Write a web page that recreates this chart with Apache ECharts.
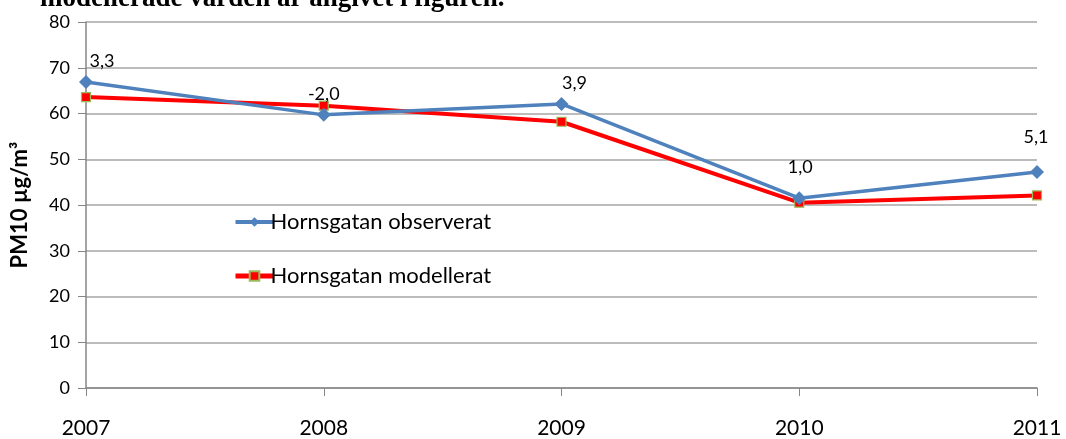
<!DOCTYPE html>
<html>
<head>
<meta charset="utf-8">
<script src="https://cdn.jsdelivr.net/npm/echarts@6/dist/echarts.min.js"></script>
<style>html,body{margin:0;padding:0;background:#fff}#c{width:1066px;height:439px}</style>
</head>
<body>
<div id="c"></div>
<script>
const years = ['2007', '2008', '2009', '2010', '2011'];
const observed = [66.9, 59.7, 62.1, 41.5, 47.2];
const modelled = [63.6, 61.7, 58.2, 40.5, 42.1];
const diffLabels = ['3,3', '-2,0', '3,9', '1,0', '5,1'];
const seriesNames = ['Hornsgatan observerat', 'Hornsgatan modellerat'];
const yTicks = [0, 10, 20, 30, 40, 50, 60, 70, 80];

const font = 'Lato, "Open Sans", sans-serif';
const labelShift = [[16, 0], [0, 0], [13, 0], [1, -10], [-1, -14]];

const chart = echarts.init(document.getElementById('c'));
chart.setOption({
  animation: false,
  backgroundColor: '#fff',
  grid: { left: 86, right: 29, top: 22, bottom: 50, containLabel: false },
  graphic: [{
    type: 'text', left: 40, top: -14,
    style: { text: 'modellerade värden är angivet i figuren.', font: 'bold 27px "Liberation Serif", "DejaVu Serif", serif', fill: '#000' }
  }],
  legend: {
    orient: 'vertical', left: 228, top: 206, itemGap: 32,
    itemWidth: 38, itemHeight: 12,
    textStyle: { fontFamily: font, fontSize: 22, color: '#000', padding: [0, 0, 0, -8] },
    data: [
      { name: seriesNames[0], lineStyle: { width: 4 } },
      { name: seriesNames[1], lineStyle: { width: 5 } }
    ]
  },
  xAxis: {
    type: 'category', data: years, boundaryGap: false,
    axisLine: { lineStyle: { color: '#868686', width: 1.5 } },
    axisTick: { show: true, length: 8, alignWithLabel: true, lineStyle: { color: '#868686' } },
    axisLabel: { fontFamily: font, fontSize: 21, color: '#000', margin: 30 },
    splitLine: { show: false }
  },
  yAxis: {
    type: 'value', min: yTicks[0], max: yTicks[yTicks.length - 1], interval: 10,
    name: 'PM10 µg/m³', nameLocation: 'middle', nameGap: 55, nameRotate: 90,
    nameTextStyle: { fontFamily: font, fontSize: 22, fontWeight: 'bold', color: '#000' },
    axisLine: { show: true, lineStyle: { color: '#868686', width: 1.5 } },
    axisTick: { show: true, length: 8, lineStyle: { color: '#868686' } },
    axisLabel: { fontFamily: font, fontSize: 18, color: '#000', margin: 16 },
    splitLine: { lineStyle: { color: '#a6a6a6', width: 1.5 } }
  },
  series: [
    {
      name: seriesNames[0], type: 'line', z: 3,
      data: observed.map((v, i) => ({
        value: v,
        label: { show: true, formatter: diffLabels[i], position: 'top', distance: 5, offset: labelShift[i] }
      })),
      symbol: 'diamond', symbolSize: 14,
      lineStyle: { color: '#4F81BD', width: 3.5 },
      itemStyle: { color: '#4F81BD' },
      label: { fontFamily: font, fontSize: 18, color: '#000' }
    },
    {
      name: seriesNames[1], type: 'line', z: 2,
      data: modelled,
      symbol: 'rect', symbolSize: 9,
      lineStyle: { color: '#FF0000', width: 4 },
      itemStyle: { color: '#FF0000', borderColor: '#9BBB59', borderWidth: 1.2 }
    }
  ]
});
</script>
</body>
</html>
